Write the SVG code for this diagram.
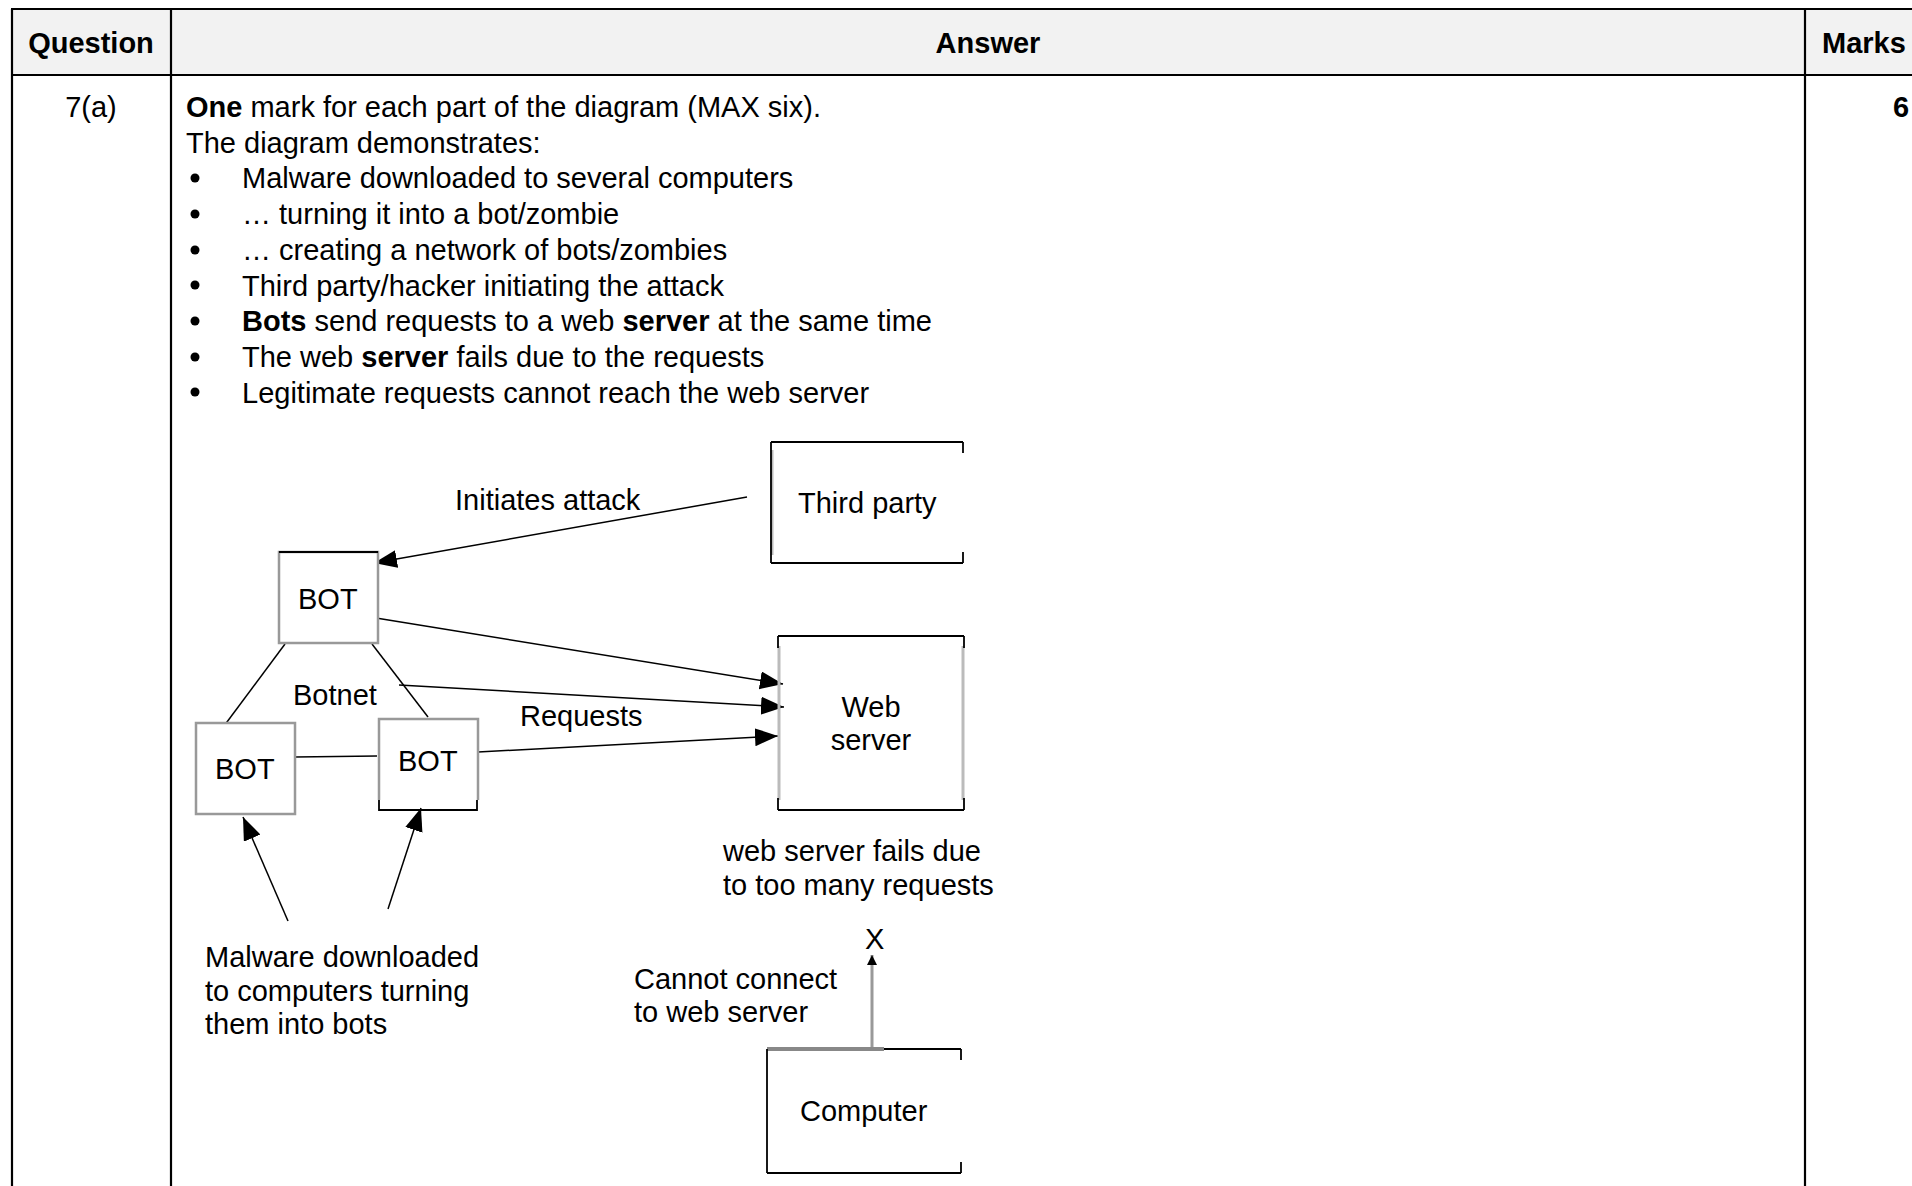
<svg xmlns="http://www.w3.org/2000/svg" width="1912" height="1186" viewBox="0 0 1912 1186">
<style>
text{font-family:"Liberation Sans",Arial,sans-serif;font-size:29px;fill:#000}
.b{font-weight:bold}
.tl{stroke:#000;stroke-width:2.2;fill:none}
.ln{stroke:#000;stroke-width:1.5;fill:none}
.ar{stroke:#000;stroke-width:1.5;fill:none;marker-end:url(#ah)}
.gb{fill:#fff;stroke:#999;stroke-width:2.5}
.bk{stroke:#000;stroke-width:1.8;fill:none}
.gs{stroke:#bbb;stroke-width:3;fill:none}
</style>
<defs>
<marker id="ah" markerUnits="userSpaceOnUse" markerWidth="26" markerHeight="20" refX="23" refY="9" orient="auto">
<path d="M0,0 L23,9 L0,18 Z" fill="#000"/>
</marker>
<marker id="ahs" markerUnits="userSpaceOnUse" markerWidth="12" markerHeight="12" refX="10" refY="5" orient="auto">
<path d="M0,0 L10,5 L0,10 Z" fill="#000"/>
</marker>
</defs>
<rect width="1912" height="1186" fill="#fff"/>
<g id="table">
<rect x="11" y="9" width="1901" height="66" fill="#f2f2f2"/>
<line class="tl" x1="11" y1="9" x2="1912" y2="9"/>
<line class="tl" x1="11" y1="75" x2="1912" y2="75"/>
<line class="tl" x1="12" y1="9" x2="12" y2="1186"/>
<line class="tl" x1="171" y1="9" x2="171" y2="1186"/>
<line class="tl" x1="1805" y1="9" x2="1805" y2="1186"/>
<text class="b" x="91" y="53" text-anchor="middle">Question</text>
<text class="b" x="988" y="53" text-anchor="middle">Answer</text>
<text class="b" x="1822" y="53">Marks</text>
<text x="91" y="117" text-anchor="middle">7(a)</text>
<text class="b" x="1893" y="117">6</text>
</g>
<g id="answer-text">
<text x="186" y="117"><tspan class="b">One</tspan> mark for each part of the diagram (MAX six).</text>
<text x="186" y="152.7">The diagram demonstrates:</text>
<g fill="#000">
<circle cx="195" cy="178" r="4.5"/>
<circle cx="195" cy="214" r="4.5"/>
<circle cx="195" cy="250" r="4.5"/>
<circle cx="195" cy="285" r="4.5"/>
<circle cx="195" cy="321" r="4.5"/>
<circle cx="195" cy="357" r="4.5"/>
<circle cx="195" cy="392" r="4.5"/>
</g>
<text x="242" y="188.4">Malware downloaded to several computers</text>
<text x="242" y="224.1">… turning it into a bot/zombie</text>
<text x="242" y="259.8">… creating a network of bots/zombies</text>
<text x="242" y="295.5">Third party/hacker initiating the attack</text>
<text x="242" y="331.2"><tspan class="b">Bots</tspan> send requests to a web <tspan class="b">server</tspan> at the same time</text>
<text x="242" y="366.9">The web <tspan class="b">server</tspan> fails due to the requests</text>
<text x="242" y="402.6">Legitimate requests cannot reach the web server</text>
</g>
<g id="connectors">
<line class="ar" x1="747" y1="497" x2="374" y2="563"/>
<line class="ar" x1="376" y1="618" x2="783" y2="684"/>
<line class="ar" x1="399" y1="685" x2="784" y2="707"/>
<line class="ar" x1="478" y1="752" x2="778" y2="736"/>
<line class="ar" x1="288" y1="921" x2="243" y2="817"/>
<line class="ar" x1="388" y1="909" x2="421" y2="808"/>
<line class="ln" x1="224" y1="726" x2="285" y2="644"/>
<line class="ln" x1="372" y1="644" x2="428" y2="717"/>
<line class="ln" x1="295" y1="757" x2="377" y2="756"/>
<line x1="872" y1="1049" x2="872" y2="955" stroke="#999" stroke-width="3" marker-end="url(#ahs)"/>
</g>
<g id="third-party">
<line class="bk" x1="771" y1="442" x2="963" y2="442"/>
<line class="bk" x1="771" y1="563" x2="963" y2="563"/>
<line class="gs" x1="772" y1="450" x2="772" y2="555"/>
<line class="bk" x1="771" y1="442" x2="771" y2="563" stroke-width="1"/>
<line class="bk" x1="963" y1="442" x2="963" y2="453"/>
<line class="bk" x1="963" y1="552" x2="963" y2="563"/>
<text x="798" y="513">Third party</text>
</g>
<g id="bot-top">
<rect class="gb" x="279" y="552" width="99" height="91"/>
<line class="bk" x1="279" y1="552" x2="378" y2="552"/>
<text x="298" y="609">BOT</text>
</g>
<g id="bot-left">
<rect class="gb" x="196" y="723" width="99" height="91"/>
<text x="215" y="779">BOT</text>
</g>
<g id="bot-right">
<path d="M379,800 V719 H478 V800" fill="#fff" stroke="#999" stroke-width="2.5"/>
<path class="bk" d="M379,800 V810 H477 V800"/>
<text x="398" y="771">BOT</text>
</g>
<g id="web-server">
<line class="bk" x1="778" y1="636" x2="964" y2="636"/>
<line class="bk" x1="778" y1="810" x2="964" y2="810"/>
<line class="gs" x1="779" y1="646" x2="779" y2="800"/>
<line class="gs" x1="963" y1="646" x2="963" y2="800"/>
<line class="bk" x1="778" y1="636" x2="778" y2="648"/>
<line class="bk" x1="964" y1="636" x2="964" y2="648"/>
<line class="bk" x1="778" y1="798" x2="778" y2="810"/>
<line class="bk" x1="964" y1="798" x2="964" y2="810"/>
<text x="871" y="717" text-anchor="middle">Web</text>
<text x="871" y="750" text-anchor="middle">server</text>
</g>
<g id="computer">
<line x1="767" y1="1049" x2="884" y2="1049" stroke="#888" stroke-width="4"/>
<line class="bk" x1="884" y1="1049" x2="961" y2="1049"/>
<line class="bk" x1="767" y1="1049" x2="767" y2="1173" stroke-width="1.2"/>
<line class="bk" x1="767" y1="1173" x2="961" y2="1173"/>
<line class="bk" x1="961" y1="1049" x2="961" y2="1060"/>
<line class="bk" x1="961" y1="1162" x2="961" y2="1173"/>
<text x="800" y="1121">Computer</text>
</g>
<g id="labels">
<text x="455" y="510">Initiates attack</text>
<text x="293" y="705">Botnet</text>
<text x="520" y="726">Requests</text>
<text x="723" y="861">web server fails due</text>
<text x="723" y="895">to too many requests</text>
<text x="865" y="949">X</text>
<text x="634" y="989">Cannot connect</text>
<text x="634" y="1022">to web server</text>
<text x="205" y="967">Malware downloaded</text>
<text x="205" y="1001">to computers turning</text>
<text x="205" y="1034">them into bots</text>
</g>
</svg>
